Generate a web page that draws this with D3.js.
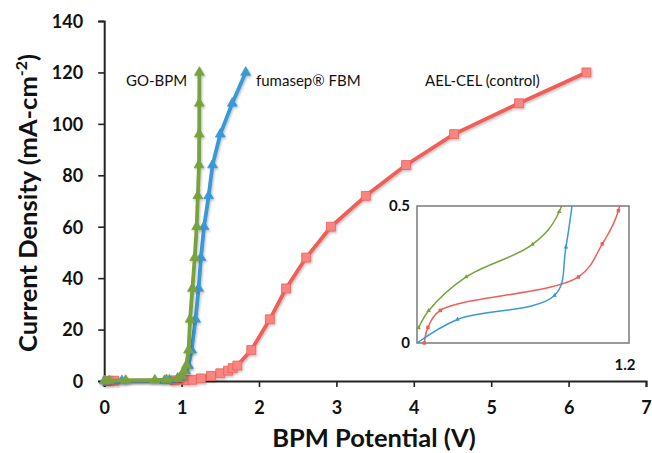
<!DOCTYPE html>
<html>
<head>
<meta charset="utf-8">
<script src="https://cdn.jsdelivr.net/npm/d3@7"></script>
<style>
  html, body { margin: 0; padding: 0; background: #fff; }
  svg { display: block; }
</style>
</head>
<body>
<svg id="chart" width="652" height="453"></svg>
<script>
// ---- Data (V, mA/cm^2) ----
const goV  = [0.009, 0.066, 0.278, 0.654, 0.805, 0.95, 1.0, 1.03, 1.06, 1.09, 1.11, 1.14, 1.17, 1.195, 1.21, 1.225, 1.228, 1.229, 1.23];
const goJ  = [0.055, 0.118, 0.241, 0.36, 0.479, 1, 2, 4, 6, 12, 24, 36, 48, 60, 72, 84, 96, 108, 120];
const fumV = [0.0, 0.229, 0.779, 0.843, 0.95, 1.0, 1.05, 1.09, 1.13, 1.18, 1.22, 1.25, 1.29, 1.35, 1.40, 1.50, 1.655, 1.828];
const fumJ = [0.0, 0.086, 0.174, 0.35, 1, 2, 4, 6, 12, 24, 36, 48, 60, 72, 84, 96, 108, 120];
const aelV = [0.041, 0.062, 0.132, 0.914, 1.049, 1.14, 1.25, 1.38, 1.50, 1.60, 1.66, 1.72, 1.9, 2.14, 2.35, 2.61, 2.93, 3.38, 3.90, 4.52, 5.36, 6.23];
const aelJ = [0, 0.057, 0.119, 0.241, 0.362, 0.483, 1, 2, 3, 4, 5, 6, 12, 24, 36, 48, 60, 72, 84, 96, 108, 120];

const seriesNames = ["GO-BPM", "fumasep® FBM", "AEL-CEL (control)"];
const xTicks = [0, 1, 2, 3, 4, 5, 6, 7];
const yTicks = [0, 20, 40, 60, 80, 100, 120, 140];
const insetXTicks = [1.2];
const insetYTicks = [0, 0.5];
const xTitle = "BPM Potential (V)";

const colors = { go: "#78a23e", fum: "#3a98d6", ael: "#ee5f5a" };

const svg = d3.select("#chart");
const FONT = "Lato, 'Open Sans', sans-serif";

// shadow filter
const defs = svg.append("defs");
const f = defs.append("filter").attr("id", "sh").attr("x", "-20%").attr("y", "-20%").attr("width", "140%").attr("height", "140%");
f.append("feDropShadow").attr("dx", 1).attr("dy", 1.5).attr("stdDeviation", 1.2).attr("flood-color", "#000").attr("flood-opacity", 0.25);

// ---- Main scales ----
const x = d3.scaleLinear().domain([0, 7]).range([104.2, 646]);
const y = d3.scaleLinear().domain([0, 140]).range([381, 21]);

const zip = (a, b) => a.map((v, i) => [v, b[i]]);
const goData = zip(goV, goJ), fumData = zip(fumV, fumJ), aelData = zip(aelV, aelJ);

// axes
const xAxisG = svg.append("g").attr("transform", `translate(0,${y(0)})`)
  .call(d3.axisBottom(x).tickValues(xTicks).tickFormat(d3.format("d")).tickSize(6).tickPadding(14));
const yAxisG = svg.append("g").attr("transform", `translate(${x(0)},0)`)
  .call(d3.axisLeft(y).tickValues(yTicks).tickFormat(d3.format("d")).tickSize(6).tickPadding(15));
[xAxisG, yAxisG].forEach(g => {
  g.select(".domain").attr("stroke", "#222").attr("stroke-width", 2);
  g.selectAll(".tick line").attr("stroke", "#222").attr("stroke-width", 1.6);
  g.selectAll(".tick text").attr("font-family", FONT).attr("font-weight", "bold")
    .attr("font-size", 18).attr("fill", "#111");
});
yAxisG.selectAll(".tick text").attr("dy", "0.35em");

// titles
svg.append("text").attr("x", 374).attr("y", 447).attr("text-anchor", "middle")
  .attr("font-family", FONT).attr("font-weight", "bold").attr("font-size", 25.5).attr("fill", "#111")
  .text(xTitle);
const yt = svg.append("text").attr("transform", "translate(37,203) rotate(-90)").attr("text-anchor", "middle")
  .attr("font-family", FONT).attr("font-weight", "bold").attr("font-size", 25.5).attr("fill", "#111");
yt.append("tspan").text("Current Density (mA-cm");
yt.append("tspan").attr("dy", -10).attr("font-size", 16).text("-2");
yt.append("tspan").attr("dy", 10).text(")");

// series labels
const labelPos = [[126, 86], [256, 86], [425, 86]];
seriesNames.forEach((n, i) => {
  svg.append("text").attr("x", labelPos[i][0]).attr("y", labelPos[i][1])
    .attr("font-family", FONT).attr("font-size", 15).attr("fill", "#111").text(n);
});

// lines main
const line = d3.line().x(d => x(d[0])).y(d => y(d[1]));
const tri = d3.symbol().type(d3.symbolTriangle).size(42);
const sq = d3.symbol().type(d3.symbolSquare).size(80);

function drawSeries(data, color, symbol, fillColor) {
  const g = svg.append("g").attr("filter", "url(#sh)");
  g.append("path").datum(data).attr("d", line).attr("fill", "none")
    .attr("stroke", color).attr("stroke-width", 3.8).attr("stroke-linejoin", "round");
  g.selectAll("path.m").data(data).join("path").attr("class", "m")
    .attr("transform", d => `translate(${x(d[0])},${y(d[1])})`)
    .attr("d", symbol).attr("fill", fillColor).attr("stroke", color).attr("stroke-width", 0.8);
}
drawSeries(aelData, colors.ael, sq, "#f88580");
drawSeries(fumData, colors.fum, tri, colors.fum);
drawSeries(goData, colors.go, tri, colors.go);

// ---- Inset ----
const ix = d3.scaleLinear().domain([0, 1.2]).range([417, 629]);
const iy = d3.scaleLinear().domain([0, 0.5]).range([343, 206]);
const inset = svg.append("g");
inset.append("rect").attr("x", ix(0)).attr("y", iy(0.5)).attr("width", ix(1.2) - ix(0)).attr("height", iy(0) - iy(0.5))
  .attr("fill", "#fff").attr("stroke", "#7a7a7a").attr("stroke-width", 1.5);
defs.append("clipPath").attr("id", "ic").append("rect")
  .attr("x", ix(0) - 3).attr("y", iy(0.5)).attr("width", ix(1.2) - ix(0) + 6).attr("height", iy(0) - iy(0.5) + 6);

const iline = d3.line().x(d => ix(d[0])).y(d => iy(d[1])).curve(d3.curveCatmullRom.alpha(0.5));
const itri = d3.symbol().type(d3.symbolTriangle).size(9);
const isq = d3.symbol().type(d3.symbolSquare).size(12);
const ig = inset.append("g").attr("clip-path", "url(#ic)");
[[aelData, colors.ael, isq], [fumData, colors.fum, itri], [goData, colors.go, itri]].forEach(([data, c, s]) => {
  const sub = data.filter(d => d[0] <= 1.3 && d[1] <= 2.5);
  ig.append("path").datum(sub).attr("d", iline).attr("fill", "none").attr("stroke", c).attr("stroke-width", 1.5);
  ig.selectAll(null).data(sub.filter(d => d[1] <= 0.5 && d[1] > 0.0001 || (d[1] === 0 && d[0] > 0.02))).join("path")
    .attr("transform", d => `translate(${ix(d[0])},${iy(d[1])})`).attr("d", s).attr("fill", c);
});
// inset tick labels
insetYTicks.forEach(t => {
  inset.append("text").attr("x", ix(0) - 7).attr("y", iy(t) + 5).attr("text-anchor", "end")
    .attr("font-family", FONT).attr("font-weight", "bold").attr("font-size", 15).attr("fill", "#111")
    .text(t === 0 ? "0" : t.toFixed(1));
});
insetXTicks.forEach(t => {
  inset.append("text").attr("x", ix(t) - 4).attr("y", iy(0) + 27).attr("text-anchor", "middle")
    .attr("font-family", FONT).attr("font-weight", "bold").attr("font-size", 15).attr("fill", "#111")
    .text(t.toFixed(1));
});
</script>
</body>
</html>
